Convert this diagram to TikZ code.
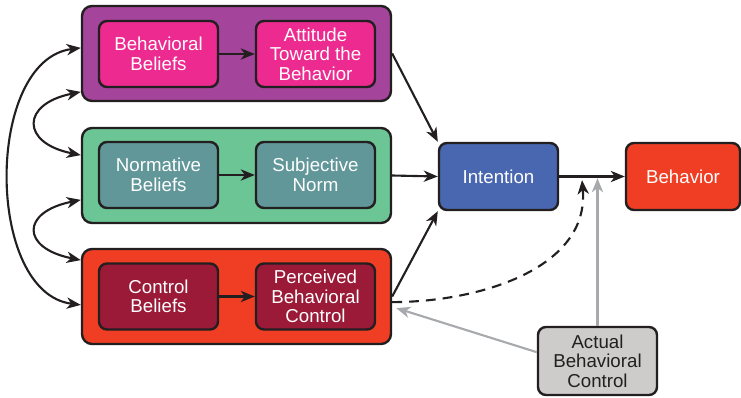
\documentclass[tikz,border=0pt]{standalone}
\usepackage{fontspec}
\setmainfont{Liberation Sans}
\usetikzlibrary{arrows.meta,positioning}
\definecolor{tpbLine}{HTML}{231F20}
\definecolor{tpbPurple}{HTML}{A4449A}
\definecolor{tpbPink}{HTML}{EC2A8F}
\definecolor{tpbGreen}{HTML}{6CC595}
\definecolor{tpbTeal}{HTML}{62979A}
\definecolor{tpbRed}{HTML}{EF3E23}
\definecolor{tpbWine}{HTML}{9A1A37}
\definecolor{tpbBlue}{HTML}{4966B0}
\definecolor{tpbGrey}{HTML}{CDCCCB}
\definecolor{tpbArrowGrey}{HTML}{A7A9AC}

\begin{document}
\begin{tikzpicture}[
    font=\fontsize{13.3}{13.8}\selectfont,
    panel/.style={draw=tpbLine, line width=1.7pt, rounded corners=0.25cm,
      minimum width=7.725cm, minimum height=2.375cm, inner sep=0pt},
    item/.style={draw=tpbLine, line width=1.7pt, rounded corners=0.2cm,
      minimum width=2.975cm, minimum height=1.65cm, inner sep=0pt,
      text=white, align=center},
    link/.style={draw=tpbLine, line width=1.5pt,
      -{Stealth[length=10pt,width=8pt,inset=3pt]}},
    twoway/.style={draw=tpbLine, line width=1.5pt,
      {Stealth[length=10pt,width=8pt,inset=3pt]}-{Stealth[length=10pt,width=8pt,inset=3pt]}},
    greylink/.style={draw=tpbArrowGrey, line width=1.5pt,
      -{Stealth[length=10pt,width=8pt,inset=3pt]}}
  ]
  \useasboundingbox (0,0) rectangle (18.525,9.925);

  % the three panels
  \node[panel, fill=tpbPurple] (attpanel) at (5.9125, 8.5875) {};
  \node[panel, fill=tpbGreen] (normpanel) at (5.9125, 5.5375) {};
  \node[panel, fill=tpbRed] (ctrlpanel) at (5.9125, 2.5125) {};

  % beliefs and their outcomes
  \node[item, fill=tpbPink] (bb) at (3.9625, 8.575) {Behavioral\\Beliefs};
  \node[item, fill=tpbPink] (att) at (7.8875, 8.575) {Attitude\\Toward the\\Behavior};
  \node[item, fill=tpbTeal] (nb) at (3.9625, 5.55) {Normative\\Beliefs};
  \node[item, fill=tpbTeal] (sn) at (7.8875, 5.55) {Subjective\\Norm};
  \node[item, fill=tpbWine] (cb) at (3.9625, 2.5125) {Control\\Beliefs};
  \node[item, fill=tpbWine] (pbc) at (7.8875, 2.5125) {Perceived\\Behavioral\\Control};

  \node[item, fill=tpbBlue, minimum height=1.675cm] (intent) at (12.4625, 5.5125) {Intention};
  \node[item, fill=tpbRed, minimum width=2.85cm, minimum height=1.675cm] (behav) at (17.075, 5.5125) {Behavior};
  \node[item, fill=tpbGrey, text=tpbLine, minimum height=1.7cm] (abc) at (14.9375, 0.9) {Actual\\Behavioral\\Control};

  \coordinate (pbcEnd) at (14.55, 5.42);
  \coordinate (abcEnd) at (14.9375, 5.47);

  % inner arrows
  \draw[link] (bb) -- (att);
  \draw[link] (nb) -- (sn);
  \draw[link] (cb) -- (pbc);

  % panels to intention
  \draw[link] (attpanel.east) -- (intent.north west);
  \draw[link] (normpanel.east) -- (intent.west);
  \draw[link] (ctrlpanel.east) -- (intent.south west);
  \draw[link] (intent) -- (behav);

  % correlations on the left
  \draw[twoway] ([yshift=0.14cm]attpanel.west) .. controls +(-2.4,-0.3) and +(-2.4,0.3) .. ([yshift=-0.21cm]ctrlpanel.west);
  \draw[twoway] ([yshift=-0.96cm]attpanel.west) .. controls +(-1.5,-0.3) and +(-1.5,0.3) .. ([yshift=0.51cm]normpanel.west);
  \draw[twoway] ([yshift=-0.61cm]normpanel.west) .. controls +(-1.5,-0.3) and +(-1.5,0.3) .. ([yshift=0.91cm]ctrlpanel.west);

  % control paths
  \draw[link, dash pattern=on 7pt off 5pt] ([yshift=-0.14cm]ctrlpanel.east) to[out=0, in=-85] (pbcEnd);
  \draw[greylink] (abc.north) -- (abcEnd);
  \draw[greylink] ([yshift=0.22cm]abc.west) -- ([xshift=0.1cm,yshift=-0.29cm]ctrlpanel.east);
\end{tikzpicture}
\end{document}
